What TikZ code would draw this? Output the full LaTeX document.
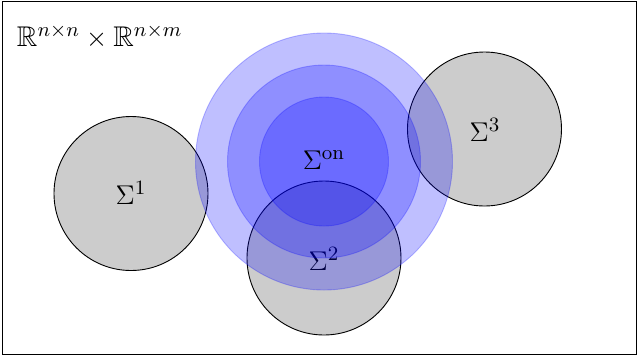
\documentclass[tikz,border=0pt]{standalone}
\usepackage{amssymb}
\begin{document}
\begin{tikzpicture}[x=0.015552cm,y=-0.015552cm,
  setbox/.style={circle,draw=black,fill=black!20,minimum size=154*0.015552cm,inner sep=0pt},
  bluebox/.style={circle,fill=blue,draw=blue,opacity=0.25,inner sep=0pt},
  lab/.style={font=\fontsize{12.6}{15}\selectfont}]
\useasboundingbox (0,0) rectangle (639,358);
\node[draw=black,line width=0.4pt,minimum width=634*0.015552cm,minimum height=353*0.015552cm,inner sep=0pt] (frame) at (319,177.5) {};
\node[lab,anchor=west] (space) at (9,37) {$\mathbb{R}^{n\times n}\times\mathbb{R}^{n\times m}$};
\node[setbox] (s1) at (131,193.5) {};
\node[setbox] (s2) at (324,258) {};
\node[setbox] (s3) at (484.5,129) {};
\node[lab] (l1) at (131,193) {$\Sigma^1$};
\node[lab] (l2) at (324,259) {$\Sigma^2$};
\node[lab] (l3) at (485,130) {$\Sigma^3$};
\node[bluebox,minimum size=257*0.015552cm] (b1) at (324,161.5) {};
\node[bluebox,minimum size=193*0.015552cm] (b2) at (324,161.5) {};
\node[bluebox,minimum size=129*0.015552cm] (b3) at (324,161.5) {};
\node[lab] (lon) at (324,160) {$\Sigma^{\mathrm{on}}$};
\end{tikzpicture}
\end{document}
